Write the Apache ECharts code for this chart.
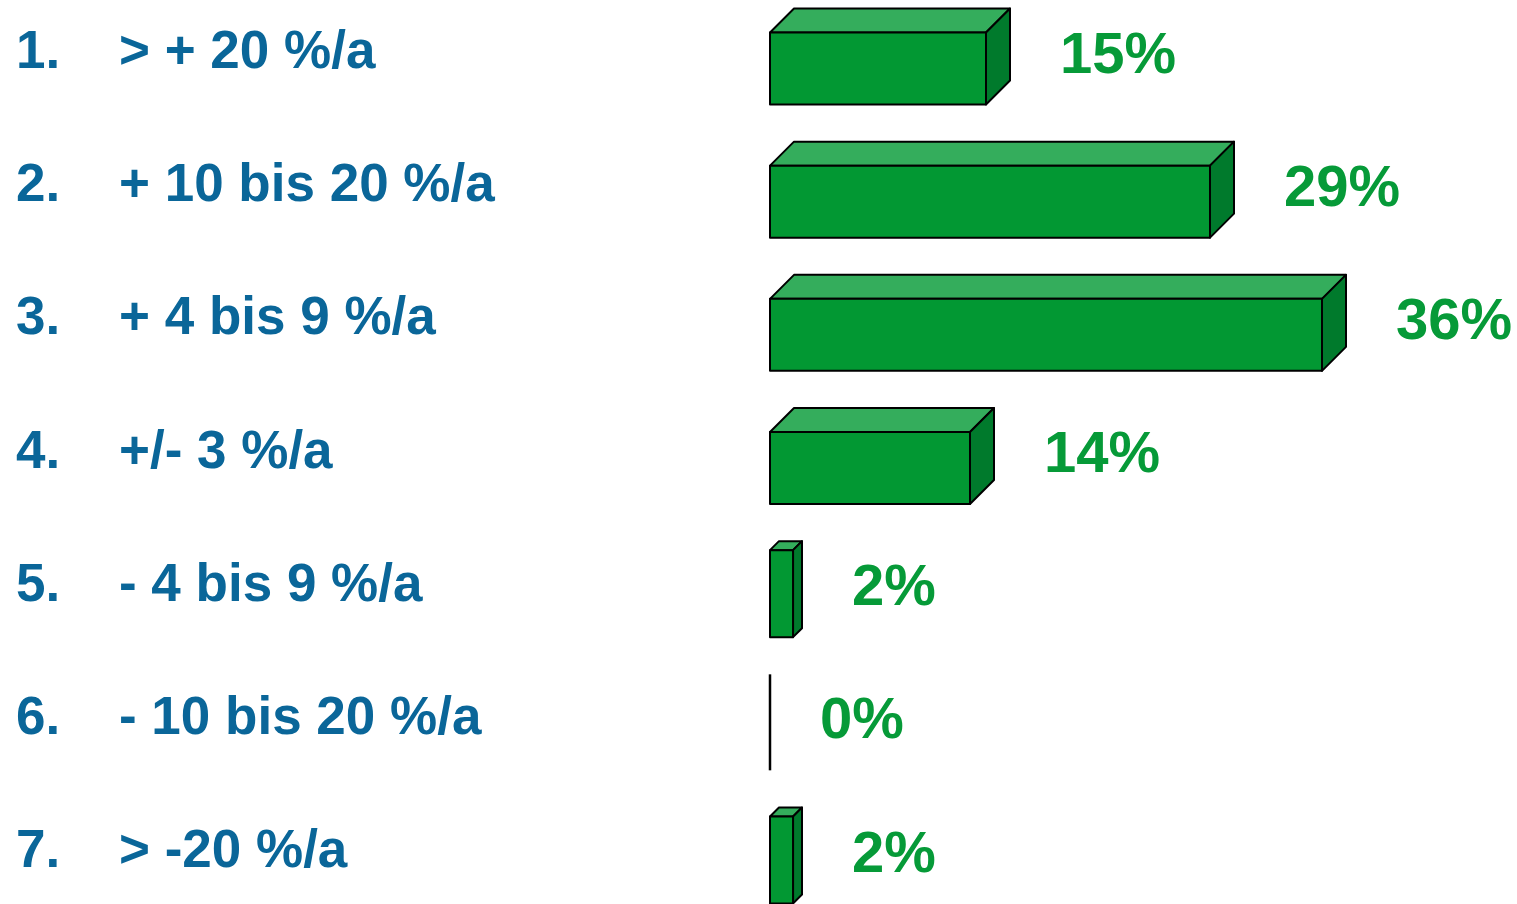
<!DOCTYPE html>
<html>
<head>
<meta charset="utf-8">
<script src="https://cdn.jsdelivr.net/npm/echarts@6/dist/echarts.min.js"></script>
<style>
html,body{margin:0;padding:0;background:#fff;}
#chart{width:1517px;height:904px;}
</style>
</head>
<body>
<div id="chart"></div>
<script>
const rankLabels = ["1.", "2.", "3.", "4.", "5.", "6.", "7."];
const categories = ["> + 20 %/a", "+ 10 bis 20 %/a", "+ 4 bis 9 %/a", "+/- 3 %/a", "- 4 bis 9 %/a", "- 10 bis 20 %/a", "> -20 %/a"];
const values = [15, 29, 36, 14, 2, 0, 2];

const FONT = "'Liberation Sans', Arial, Helvetica, sans-serif";
const chart = echarts.init(document.getElementById('chart'));

const catData = categories.map((c, i) => rankLabels[i] + '|' + c);

chart.setOption({
  backgroundColor: '#ffffff',
  animation: false,
  grid: { left: 770, right: 107, top: 56.5, bottom: 48.5, containLabel: false },
  xAxis: {
    type: 'value', min: 0, max: 40,
    show: false
  },
  yAxis: {
    type: 'category',
    data: catData,
    inverse: true,
    boundaryGap: false,
    axisLine: { show: false },
    axisTick: { show: false },
    splitLine: { show: false },
    axisLabel: {
      margin: 754,
      align: 'left',
      verticalAlign: 'middle',
      padding: [0, 0, 6, 0],
      formatter: function (v) {
        const p = v.split('|');
        return '{n|' + p[0] + '}{t|' + p[1] + '}';
      },
      rich: {
        n: { width: 103, fontSize: 53, fontWeight: 'bold', fontFamily: FONT, color: '#0a6699' },
        t: { fontSize: 53, fontWeight: 'bold', fontFamily: FONT, color: '#0a6699' }
      }
    }
  },
  series: [{
    type: 'custom',
    data: values.map((v, i) => [v, i]),
    encode: { x: 0, y: 1 },
    renderItem: function (params, api) {
      const v = api.value(0);
      const idx = api.value(1);
      const s = api.coord([0, idx]);
      const e = api.coord([v, idx]);
      const cy = s[1];
      const H = 96;
      const top = cy - H / 2, bottom = cy + H / 2;
      const len = e[0] - s[0];
      const children = [];
      const stroke = { stroke: '#000', lineWidth: 2, lineJoin: 'round' };
      if (len < 1) {
        children.push({ type: 'line', shape: { x1: s[0], y1: top, x2: s[0], y2: bottom }, style: { stroke: '#000', lineWidth: 2.5 } });
      } else {
        const d = Math.min(24, len * 0.28);
        const x0 = s[0], x1 = e[0] - d, x2 = e[0];
        children.push({ type: 'polygon', shape: { points: [[x0, top + d], [x0 + d, top], [x2, top], [x1, top + d]] }, style: Object.assign({ fill: '#34ad5c' }, stroke) });
        children.push({ type: 'polygon', shape: { points: [[x1, top + d], [x2, top], [x2, bottom - d], [x1, bottom]] }, style: Object.assign({ fill: '#007a2c' }, stroke) });
        children.push({ type: 'rect', shape: { x: x0, y: top + d, width: x1 - x0, height: H - d }, style: Object.assign({ fill: '#029833' }, stroke) });
      }
      children.push({
        type: 'text',
        style: {
          x: e[0] + 50, y: cy,
          text: v + '%',
          fill: '#069a38',
          font: 'bold 58px ' + FONT,
          textAlign: 'left',
          textVerticalAlign: 'middle'
        }
      });
      return { type: 'group', children: children };
    }
  }]
});
</script>
</body>
</html>
